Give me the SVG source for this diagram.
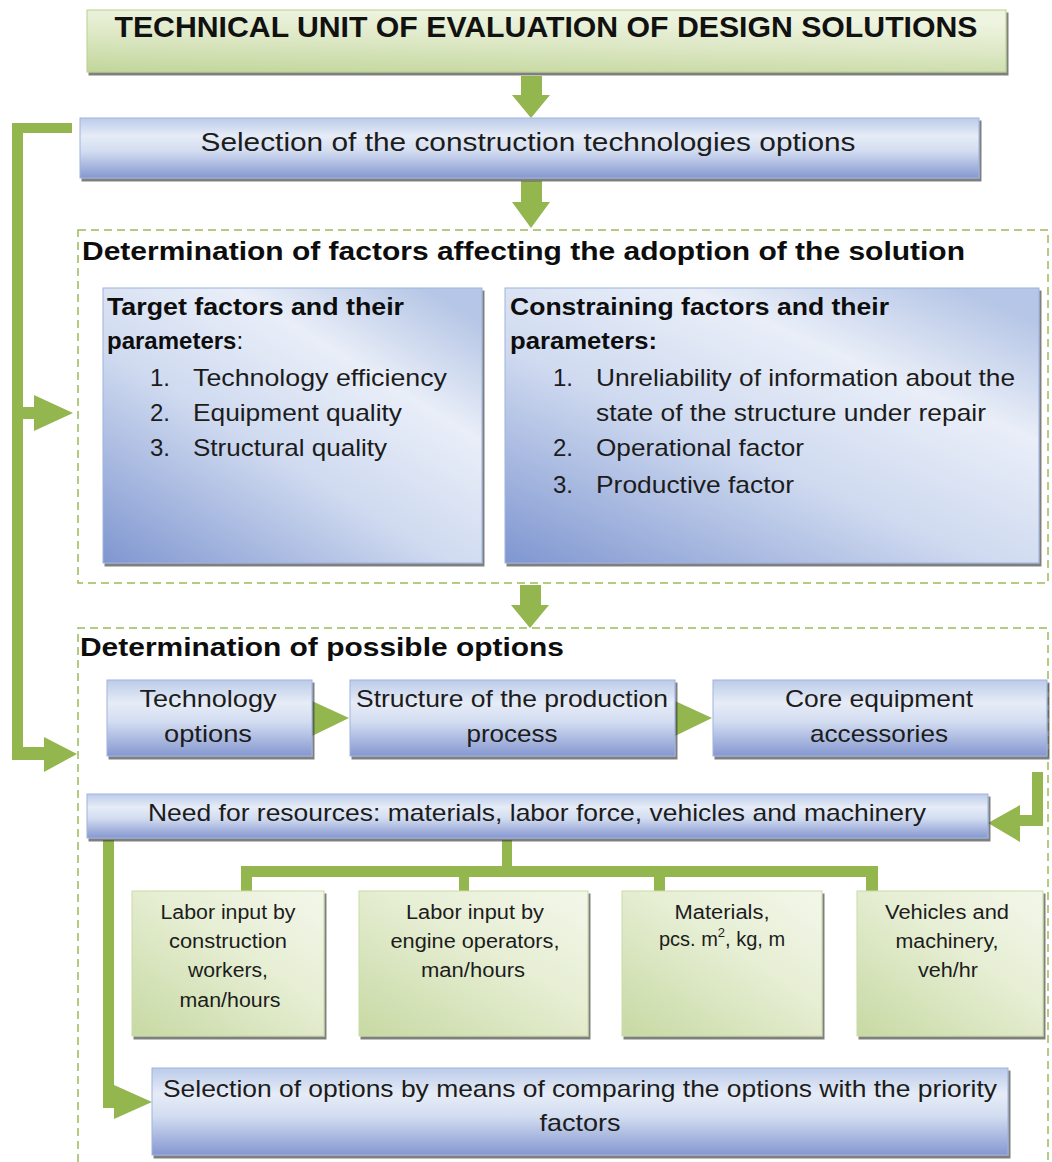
<svg xmlns="http://www.w3.org/2000/svg" width="1052" height="1162" viewBox="0 0 1052 1162">
  <defs>
    <linearGradient id="blueBar" x1="0" y1="0" x2="0" y2="1">
      <stop offset="0" stop-color="#bccbe9"/>
      <stop offset="0.3" stop-color="#e6ecf7"/>
      <stop offset="0.55" stop-color="#d3ddf1"/>
      <stop offset="1" stop-color="#8597d0"/>
    </linearGradient>
    <linearGradient id="blueTall" x1="0" y1="1" x2="0.85" y2="0">
      <stop offset="0" stop-color="#7f96d0"/>
      <stop offset="0.45" stop-color="#cfdaf0"/>
      <stop offset="0.75" stop-color="#e9eef8"/>
      <stop offset="1" stop-color="#b6c6e6"/>
    </linearGradient>
    <linearGradient id="greenBox" x1="0" y1="1" x2="0.9" y2="0">
      <stop offset="0" stop-color="#c7d9a3"/>
      <stop offset="0.6" stop-color="#e6eed3"/>
      <stop offset="1" stop-color="#f2f6e8"/>
    </linearGradient>
    <linearGradient id="greenTitle" x1="0" y1="1" x2="0.3" y2="0">
      <stop offset="0" stop-color="#c2d69b"/>
      <stop offset="0.6" stop-color="#dfe9c8"/>
      <stop offset="1" stop-color="#eef4e0"/>
    </linearGradient>
    <filter id="shadow" x="-5%" y="-5%" width="110%" height="120%">
      <feOffset in="SourceAlpha" dx="2" dy="3" result="off"/>
      <feFlood flood-color="#3c3c3c" flood-opacity="0.65"/>
      <feComposite in2="off" operator="in" result="sh"/>
      <feMerge>
        <feMergeNode in="sh"/>
        <feMergeNode in="SourceGraphic"/>
      </feMerge>
    </filter>
    <style>
      .bar { fill: url(#blueBar); stroke: #9fb3dd; stroke-width: 1; filter: url(#shadow); }
      .tall { fill: url(#blueTall); stroke: #9fb3dd; stroke-width: 1; filter: url(#shadow); }
      .gbox { fill: url(#greenBox); stroke: #c9dba5; stroke-width: 1; filter: url(#shadow); }
      .gtitle { fill: url(#greenTitle); stroke: #b9cf8e; stroke-width: 1; filter: url(#shadow); }
      .frame { fill: none; stroke: #9bbb59; stroke-width: 1.5; stroke-dasharray: 8 5; }
      .conn { fill: #93b64e; stroke: none; }
      text { font-family: "Liberation Sans", Arial, sans-serif; fill: #1c1c1c; }
      .title { font-size: 30px; font-weight: bold; fill: #111; }
      .head { font-size: 26px; font-weight: bold; fill: #0d0d0d; }
      .sub { font-size: 24px; font-weight: bold; fill: #0d0d0d; }
      .body { font-size: 24px; }
      .big { font-size: 26px; }
      .small { font-size: 20px; }
      .c { text-anchor: middle; }
    </style>
  </defs>

  <rect width="1052" height="1162" fill="#ffffff"/>

  <!-- dashed section frames -->
  <g id="section-factors">
    <rect class="frame" x="78" y="230" width="970" height="353"/>
    <text class="head" x="82" y="260" textLength="883" lengthAdjust="spacingAndGlyphs">Determination of factors affecting the adoption of the solution</text>
  </g>
  <g id="section-options">
    <path class="frame" d="M78 1162 V628 H1048 V1162"/>
    <text class="head" x="80" y="656" textLength="484" lengthAdjust="spacingAndGlyphs">Determination of possible options</text>
  </g>

  <!-- connectors -->
  <g id="connectors">
    <!-- vertical block arrows -->
    <polygon class="conn" points="521,76 542,76 542,95 550,95 531,118 512,95 521,95"/>
    <polygon class="conn" points="521,181 542,181 542,202 550,202 531,228 512,202 521,202"/>
    <polygon class="conn" points="520,585 541,585 541,605 549,605 530,628 511,605 520,605"/>
    <!-- feedback loop on the left -->
    <polygon class="conn" points="72,123 72,133 23,133 23,407 34,407 34,395 73,413 34,431 34,419 23,419 23,747 44,747 44,737 77,754 44,772 44,760 12,760 12,123"/>
    <!-- row arrows -->
    <polygon class="conn" points="312,701 349,718 312,736"/>
    <polygon class="conn" points="675,701 712,718 675,736"/>
    <!-- from core equipment down to resources -->
    <polygon class="conn" points="1032,772 1043,772 1043,826 1020,826 1020,842 988,823 1020,805 1020,815 1032,815"/>
    <!-- resources to final selection -->
    <polygon class="conn" points="103,840 114,840 114,1085 152,1102 114,1119 114,1108 103,1108"/>
    <!-- resources tree -->
    <path class="conn" d="M502 840 H512 V866 H878 V891 H866 V877 H665 V891 H654 V877 H469 V891 H459 V877 H252 V891 H241 V866 H502 Z"/>
  </g>

  <!-- nodes -->
  <g id="node-title">
    <rect class="gtitle" x="87" y="10" width="919" height="62"/>
    <text class="title c" x="546" y="37" textLength="863" lengthAdjust="spacingAndGlyphs">TECHNICAL UNIT OF EVALUATION OF DESIGN SOLUTIONS</text>
  </g>

  <g id="node-selection-tech">
    <rect class="bar" x="80" y="118" width="899" height="60"/>
    <text class="big c" x="528" y="151" textLength="655" lengthAdjust="spacingAndGlyphs">Selection of the construction technologies options</text>
  </g>

  <g id="node-target">
    <rect class="tall" x="103" y="288" width="379" height="275"/>
    <text class="sub" x="107" y="315" textLength="297" lengthAdjust="spacingAndGlyphs">Target factors and their</text>
    <text class="sub" x="107" y="349">parameters<tspan font-weight="normal">:</tspan></text>
    <text class="body" x="150" y="386">1.</text>
    <text class="body" x="193" y="386" textLength="254" lengthAdjust="spacingAndGlyphs">Technology efficiency</text>
    <text class="body" x="150" y="421">2.</text>
    <text class="body" x="193" y="421" textLength="209" lengthAdjust="spacingAndGlyphs">Equipment quality</text>
    <text class="body" x="150" y="456">3.</text>
    <text class="body" x="193" y="456" textLength="194" lengthAdjust="spacingAndGlyphs">Structural quality</text>
  </g>

  <g id="node-constraining">
    <rect class="tall" x="505" y="288" width="534" height="275"/>
    <text class="sub" x="510" y="315" textLength="379" lengthAdjust="spacingAndGlyphs">Constraining factors and their</text>
    <text class="sub" x="510" y="349" textLength="147" lengthAdjust="spacingAndGlyphs">parameters:</text>
    <text class="body" x="553" y="386">1.</text>
    <text class="body" x="596" y="386" textLength="419" lengthAdjust="spacingAndGlyphs">Unreliability of information about the</text>
    <text class="body" x="596" y="421" textLength="390" lengthAdjust="spacingAndGlyphs">state of the structure under repair</text>
    <text class="body" x="553" y="456">2.</text>
    <text class="body" x="596" y="456" textLength="208" lengthAdjust="spacingAndGlyphs">Operational factor</text>
    <text class="body" x="553" y="493">3.</text>
    <text class="body" x="596" y="493" textLength="198" lengthAdjust="spacingAndGlyphs">Productive factor</text>
  </g>

  <g id="node-technology-options">
    <rect class="bar" x="107" y="680" width="205" height="76"/>
    <text class="body c" x="208" y="707" textLength="137" lengthAdjust="spacingAndGlyphs">Technology</text>
    <text class="body c" x="208" y="742" textLength="88" lengthAdjust="spacingAndGlyphs">options</text>
  </g>

  <g id="node-structure">
    <rect class="bar" x="350" y="680" width="325" height="76"/>
    <text class="body c" x="512" y="707" textLength="312" lengthAdjust="spacingAndGlyphs">Structure of the production</text>
    <text class="body c" x="512" y="742" textLength="91" lengthAdjust="spacingAndGlyphs">process</text>
  </g>

  <g id="node-core-equipment">
    <rect class="bar" x="713" y="680" width="334" height="76"/>
    <text class="body c" x="879" y="707" textLength="188" lengthAdjust="spacingAndGlyphs">Core equipment</text>
    <text class="body c" x="879" y="742" textLength="138" lengthAdjust="spacingAndGlyphs">accessories</text>
  </g>

  <g id="node-resources">
    <rect class="bar" x="87" y="794" width="901" height="44"/>
    <text class="body c" x="537" y="821" textLength="778" lengthAdjust="spacingAndGlyphs">Need for resources: materials, labor force, vehicles and machinery</text>
  </g>

  <g id="node-labor-workers">
    <rect class="gbox" x="132" y="891" width="192" height="145"/>
    <text class="small c" x="228" y="919" textLength="135" lengthAdjust="spacingAndGlyphs">Labor input by</text>
    <text class="small c" x="228" y="948" textLength="118" lengthAdjust="spacingAndGlyphs">construction</text>
    <text class="small c" x="228" y="977" textLength="80" lengthAdjust="spacingAndGlyphs">workers,</text>
    <text class="small c" x="230" y="1007" textLength="101" lengthAdjust="spacingAndGlyphs">man/hours</text>
  </g>

  <g id="node-labor-operators">
    <rect class="gbox" x="359" y="891" width="229" height="145"/>
    <text class="small c" x="475" y="919" textLength="138" lengthAdjust="spacingAndGlyphs">Labor input by</text>
    <text class="small c" x="475" y="948" textLength="169" lengthAdjust="spacingAndGlyphs">engine operators,</text>
    <text class="small c" x="473" y="977" textLength="104" lengthAdjust="spacingAndGlyphs">man/hours</text>
  </g>

  <g id="node-materials">
    <rect class="gbox" x="622" y="891" width="200" height="145"/>
    <text class="small c" x="722" y="919" textLength="95" lengthAdjust="spacingAndGlyphs">Materials,</text>
    <text class="small c" x="722" y="946">pcs. m<tspan font-size="13" dy="-9">2</tspan><tspan dy="9">, kg, m</tspan></text>
  </g>

  <g id="node-vehicles">
    <rect class="gbox" x="857" y="891" width="186" height="145"/>
    <text class="small c" x="947" y="919" textLength="124" lengthAdjust="spacingAndGlyphs">Vehicles and</text>
    <text class="small c" x="947" y="948" textLength="103" lengthAdjust="spacingAndGlyphs">machinery,</text>
    <text class="small c" x="948" y="977" textLength="60" lengthAdjust="spacingAndGlyphs">veh/hr</text>
  </g>

  <g id="node-final-selection">
    <rect class="bar" x="152" y="1068" width="856" height="87"/>
    <text class="body c" x="580" y="1097" textLength="834" lengthAdjust="spacingAndGlyphs">Selection of options by means of comparing the options with the priority</text>
    <text class="body c" x="580" y="1131" textLength="81" lengthAdjust="spacingAndGlyphs">factors</text>
  </g>
</svg>
